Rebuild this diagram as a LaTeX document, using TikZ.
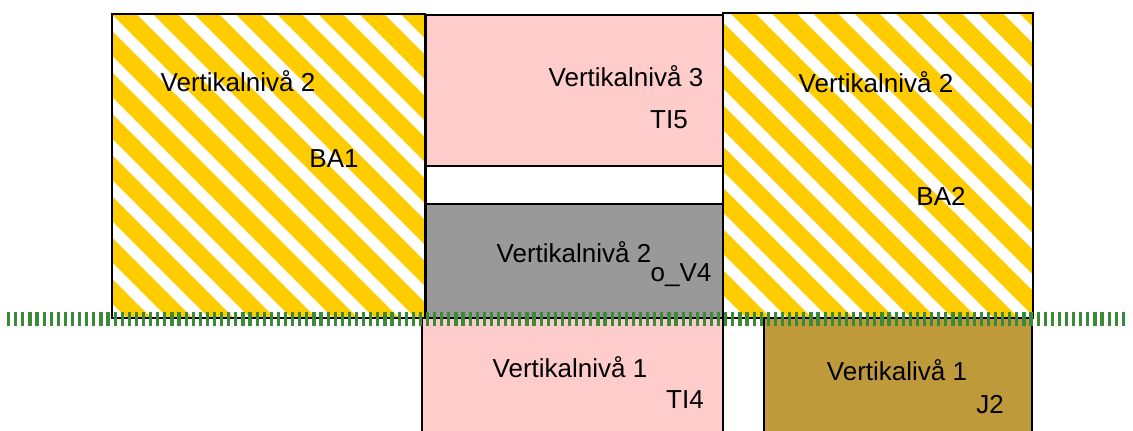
\documentclass[tikz,border=0pt]{standalone}
\usepackage{fontspec}
\setmainfont{Liberation Sans}

\definecolor{hatchyellow}{RGB}{255,204,0}
\definecolor{lvlpink}{RGB}{255,204,204}
\definecolor{lvlgray}{RGB}{153,153,153}
\definecolor{lvlbrown}{RGB}{191,154,58}
\definecolor{groundgreen}{RGB}{58,138,58}

\begin{document}
\begin{tikzpicture}[
  x=0.5pt, y=-0.5pt,
  box/.style={draw=black, line width=1.3pt},
  lbl/.style={anchor=base, inner sep=0pt, font=\fontsize{13}{15}\selectfont},
  stripe/.style={hatchyellow, line width=8.75pt},
  ground/.style={groundgreen, line width=7pt, dash pattern=on 1.6pt off 1.95pt}
]
  \clip (0,0) rectangle (1133,430);

  % middle column
  \filldraw[box, fill=lvlpink] (426,15)  rectangle (723,166);
  \filldraw[box, fill=white]   (426,166) rectangle (723,204);
  \filldraw[box, fill=lvlgray] (426,204) rectangle (723,318);
  \filldraw[box, fill=lvlpink] (422,318) rectangle (723,440);
  \filldraw[box, fill=lvlbrown] (764,318) rectangle (1032,440);

  % hatched blocks
  \foreach \xa/\ya/\xb/\yb in {112/14/425/318, 723/13/1033/318} {
    \begin{scope}
      \clip (\xa,\ya) rectangle (\xb,\yb);
      \foreach \k in {-9,...,24}
        \draw[stripe] ({110+41.3*\k-20},-20) -- ({110+41.3*\k+340},340);
    \end{scope}
    \draw[box] (\xa,\ya) rectangle (\xb,\yb);
  }

  % ground line
  \coordinate (gl) at (7,319);
  \coordinate (gr) at (1127,319);
  \draw[ground] (gl) -- (gr);

  \node[lbl] (ba1lvl) at (238,91)  {Vertikalnivå 2};
  \node[lbl] (ba1)    at (334,167) {BA1};
  \node[lbl] (ti5lvl) at (626,86)  {Vertikalnivå 3};
  \node[lbl] (ti5)    at (669,128) {TI5};
  \node[lbl] (v4lvl)  at (574,262) {Vertikalnivå 2};
  \node[lbl] (v4)     at (681,281) {o\_V4};
  \node[lbl] (ti4lvl) at (570,377) {Vertikalnivå 1};
  \node[lbl] (ti4)    at (685,408) {TI4};
  \node[lbl] (j2lvl)  at (897,380) {Vertikalivå 1};
  \node[lbl] (j2)     at (990,413) {J2};
  \node[lbl] (ba2lvl) at (876,92)  {Vertikalnivå 2};
  \node[lbl] (ba2)    at (941,205) {BA2};
\end{tikzpicture}
\end{document}
